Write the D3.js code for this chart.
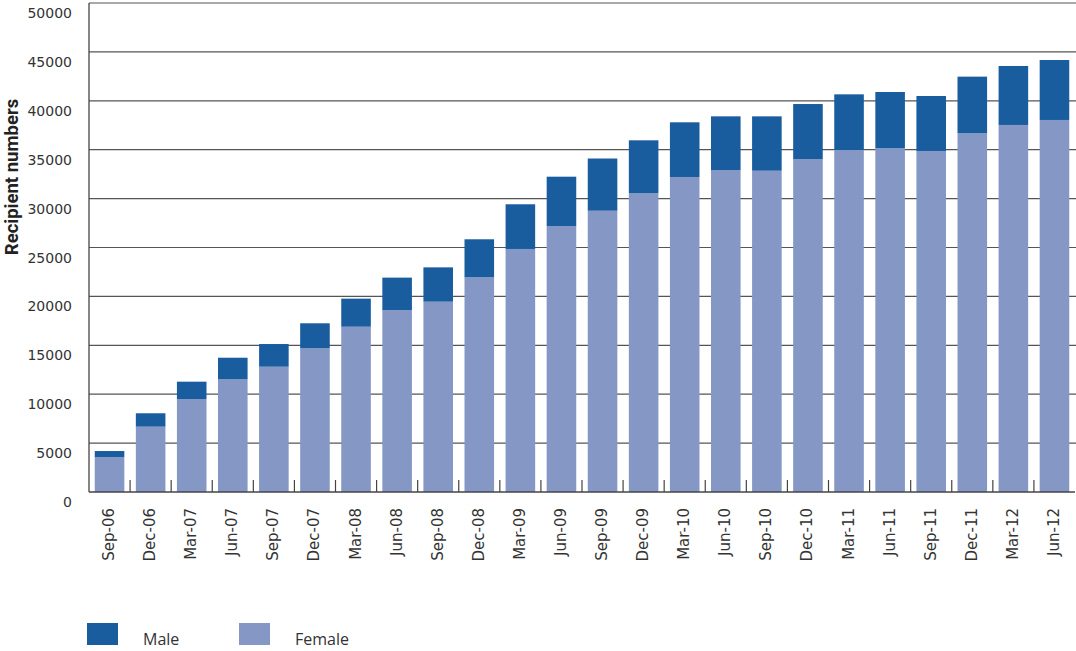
<!DOCTYPE html>
<html>
<head>
<meta charset="utf-8">
<script src="https://cdn.jsdelivr.net/npm/d3@7"></script>
<style>
  html, body { margin: 0; padding: 0; background: #fff; }
  svg { display: block; }
</style>
</head>
<body>
<svg id="chart" width="1076" height="651"></svg>
<script>
const categories = ["Sep-06","Dec-06","Mar-07","Jun-07","Sep-07","Dec-07","Mar-08","Jun-08","Sep-08","Dec-08","Mar-09","Jun-09","Sep-09","Dec-09","Mar-10","Jun-10","Sep-10","Dec-10","Mar-11","Jun-11","Sep-11","Dec-11","Mar-12","Jun-12"];
const female = [3550, 6680, 9510, 11520, 12810, 14690, 16900, 18610, 19460, 21950, 24850, 27200, 28760, 30540, 32210, 32920, 32850, 34050, 34970, 35140, 34870, 36680, 37530, 38040];
const male = [640, 1370, 1770, 2210, 2320, 2560, 2870, 3310, 3510, 3890, 4570, 5040, 5340, 5420, 5590, 5490, 5560, 5620, 5690, 5760, 5620, 5790, 6030, 6130];
const yTicks = [0, 5000, 10000, 15000, 20000, 25000, 30000, 35000, 40000, 45000, 50000];
const seriesNames = ["Male", "Female"];
const colors = { Male: "#195d9e", Female: "#8597c5" };

const svg = d3.select("#chart");
const mLeft = 89, mRight = 1075, mTop = 3, mBottom = 492;

const x = d3.scaleBand().domain(categories).range([mLeft, mRight]).paddingInner(0.28).paddingOuter(0.14);
const y = d3.scaleLinear().domain([0, 50000]).range([mBottom, mTop]);

// gridlines
svg.append("g").selectAll("line").data(yTicks.filter(d => d > 0)).join("line")
  .attr("x1", mLeft).attr("x2", mRight + 1)
  .attr("y1", d => y(d)).attr("y2", d => y(d))
  .attr("stroke", "#555").attr("stroke-width", 1.2);

// y tick labels (offset below gridlines as in reference)
svg.append("g").selectAll("text").data(yTicks).join("text")
  .attr("x", 72).attr("y", d => y(d) + 11)
  .attr("text-anchor", "end").attr("dominant-baseline", "middle")
  .attr("font-family", "'DejaVu Sans', sans-serif")
  .attr("font-size", 14).attr("fill", "#333")
  .text(d => d);

// stacked bars
const stackData = categories.map((c, i) => ({ cat: c, Female: female[i], Male: male[i] }));
const stack = d3.stack().keys(["Female", "Male"])(stackData);
svg.append("g").selectAll("g").data(stack).join("g")
  .attr("fill", s => colors[s.key])
  .selectAll("rect").data(s => s).join("rect")
  .attr("x", d => x(d.data.cat))
  .attr("width", x.bandwidth())
  .attr("y", d => y(d[1]))
  .attr("height", d => y(d[0]) - y(d[1]));

// y axis line
svg.append("line").attr("x1", mLeft).attr("x2", mLeft).attr("y1", mTop).attr("y2", mBottom)
  .attr("stroke", "#444").attr("stroke-width", 1.3);

// x axis line
svg.append("line").attr("x1", mLeft).attr("x2", mRight).attr("y1", mBottom).attr("y2", mBottom)
  .attr("stroke", "#444").attr("stroke-width", 1.3);

// x ticks between bars
const step = x.step();
const boundaries = categories.slice(1).map(c => x(c) - x.paddingInner() * step / 2);
svg.append("g").selectAll("line").data(boundaries).join("line")
  .attr("x1", d => d).attr("x2", d => d)
  .attr("y1", mBottom).attr("y2", mBottom - 12)
  .attr("stroke", "#444").attr("stroke-width", 1.2);

// x labels
svg.append("g").selectAll("text").data(categories).join("text")
  .attr("transform", d => `translate(${x(d) + x.bandwidth() / 2},508) rotate(-90)`)
  .attr("text-anchor", "end").attr("dominant-baseline", "middle")
  .attr("font-family", "'DejaVu Sans', sans-serif")
  .attr("font-size", 15).attr("fill", "#333")
  .text(d => d);

// y axis title
svg.append("text")
  .attr("transform", "translate(13,177) rotate(-90)")
  .attr("text-anchor", "middle").attr("dominant-baseline", "middle")
  .attr("font-family", "Roboto, 'Liberation Sans', sans-serif")
  .attr("font-size", 18.5).attr("font-weight", "bold").attr("fill", "#222")
  .text("Recipient numbers");

// legend
const legendX = [87, 239];
const lg = svg.append("g").selectAll("g").data(seriesNames).join("g")
  .attr("transform", (d, i) => `translate(${legendX[i]},623)`);
lg.append("rect").attr("width", 31).attr("height", 22).attr("fill", d => colors[d]);
lg.append("text").attr("x", 56).attr("y", 22)
  .attr("font-family", "'Open Sans', sans-serif").attr("font-size", 16).attr("fill", "#333")
  .text(d => d);
</script>
</body>
</html>
